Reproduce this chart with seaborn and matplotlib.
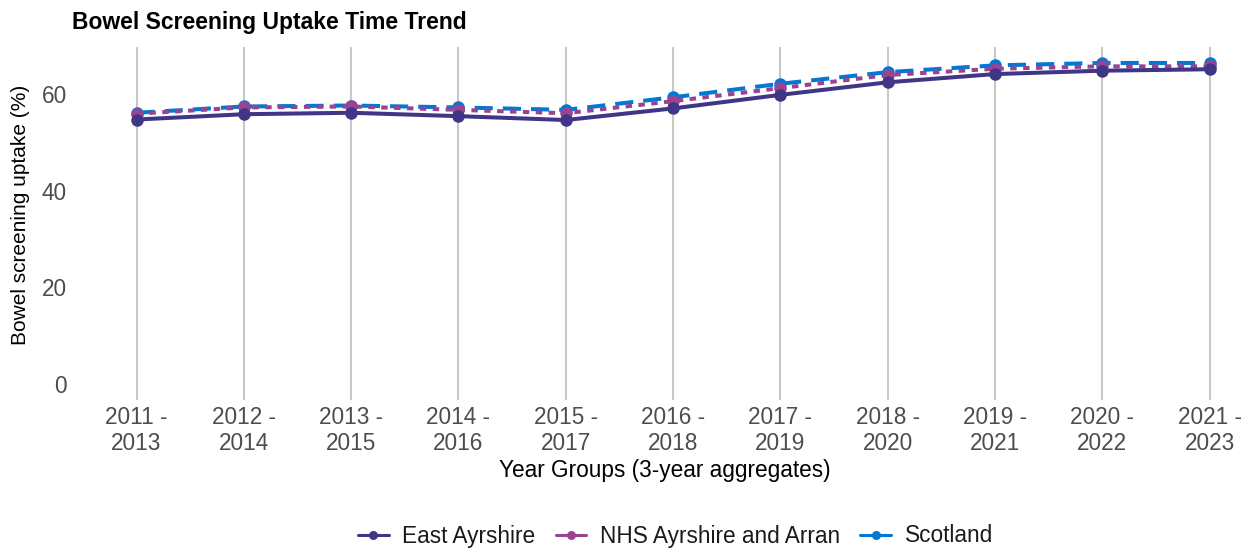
import matplotlib
matplotlib.use("Agg")
import matplotlib.pyplot as plt
import seaborn as sns
import pandas as pd
from matplotlib.lines import Line2D

year_groups = ["2011 -\n2013", "2012 -\n2014", "2013 -\n2015", "2014 -\n2016", "2015 -\n2017",
               "2016 -\n2018", "2017 -\n2019", "2018 -\n2020", "2019 -\n2021", "2020 -\n2022",
               "2021 -\n2023"]
east_ayrshire = [54.7, 55.8, 56.1, 55.4, 54.6, 57.0, 59.8, 62.4, 64.1, 64.8, 65.1]
nhs_ayrshire = [55.9, 57.2, 57.4, 56.7, 56.0, 58.5, 61.2, 63.9, 65.2, 65.7, 65.7]
scotland = [56.1, 57.4, 57.6, 57.2, 56.7, 59.3, 62.1, 64.5, 65.9, 66.4, 66.4]

series_names = ["East Ayrshire", "NHS Ayrshire and Arran", "Scotland"]
series_vals = [east_ayrshire, nhs_ayrshire, scotland]
colors = {"East Ayrshire": "#3F3685", "NHS Ayrshire and Arran": "#9B4393", "Scotland": "#0078D4"}
dash_styles = {"NHS Ayrshire and Arran": (1.6, 1.6), "Scotland": (4.5, 2.5)}

frames = []
for name, vals in zip(series_names, series_vals):
    frames.append(pd.DataFrame({"period": year_groups, "uptake": vals, "area": name}))
df = pd.concat(frames, ignore_index=True)

sns.set_theme(style="white")
plt.rcParams["font.family"] = ["Liberation Sans", "DejaVu Sans"]
plt.rcParams["text.color"] = "black"

FS = 16.3
LW = 2.9

fig = plt.figure(figsize=(12.51, 5.49), dpi=100)
ax = fig.add_axes([85 / 1251, 1 - 400 / 549, (1245 - 85) / 1251, (400 - 47) / 549])

for i, name in enumerate(reversed(series_names)):
    sub = df[df["area"] == name]
    sns.lineplot(data=sub, x="period", y="uptake", ax=ax, color=colors[name],
                 linewidth=LW, marker="o", markersize=9, markeredgewidth=0,
                 sort=False, legend=False, zorder=3 + i)
    line = ax.lines[-1]
    if name in dash_styles:
        line.set_dashes(dash_styles[name])

ax.set_ylim(-3.3, 69.7)
ax.set_xlim(-0.48, 10.33)
ax.set_yticks([0, 20, 40, 60])
ax.grid(axis="x", color="#c8c8c8", linewidth=1.5)
ax.grid(axis="y", visible=False)
for s in ax.spines.values():
    s.set_visible(False)
ax.tick_params(axis="both", colors="#4d4d4d", labelsize=FS, length=0)
ax.tick_params(axis="x", pad=4)
ax.tick_params(axis="y", pad=13)
ax.set_xlabel("Year Groups (3-year aggregates)", fontsize=FS, color="black", labelpad=3)
ax.set_ylabel("Bowel screening uptake (%)", fontsize=15, color="black")
ax.yaxis.set_label_coords(-0.047, 0.524)

fig.text(72 / 1251, 1 - 22 / 549, "Bowel Screening Uptake Time Trend", fontsize=16.5,
         fontweight="bold", va="center", ha="left", color="black")

handles = []
for name in series_names:
    h = Line2D([0], [0], color=colors[name], linewidth=2.2, marker="o", markersize=6.5,
               markeredgewidth=0, linestyle="-")
    handles.append(h)
leg = fig.legend(handles, series_names, loc="center", bbox_to_anchor=(0.54, 1 - 536 / 549), ncol=3,
                 frameon=False, fontsize=FS, handlelength=1.35, columnspacing=0.9, handletextpad=0.6)
for t in leg.get_texts():
    t.set_color("#1a1a1a")

fig.savefig("out.png", dpi=100)
